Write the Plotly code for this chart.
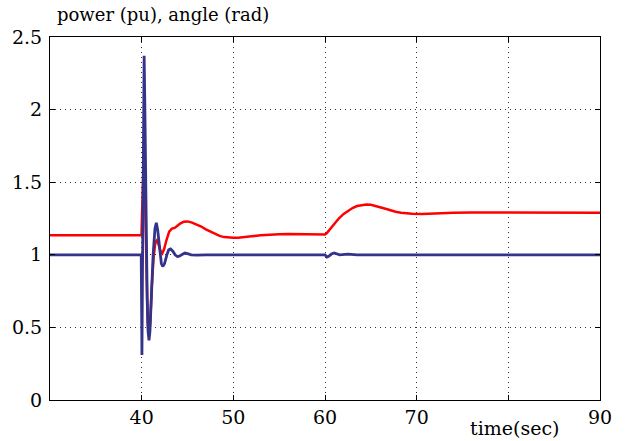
import plotly.graph_objects as go

# time (s) and series values
t_red = [30, 39.98, 40.05, 40.15, 40.25, 40.35, 40.5, 40.65, 40.8, 40.95, 41.1, 41.3, 41.5, 41.65,
         41.85, 42.05, 42.25, 42.45, 42.7, 43.0, 43.3, 43.6, 43.9, 44.2, 44.6, 45.0, 45.5, 46.0,
         46.5, 47.0, 47.5, 48.0, 48.5, 49.0, 49.5, 50, 50.5, 51, 52, 53, 54, 55, 56, 57.5, 59,
         60.0, 60.2, 60.5, 61.0, 61.5, 62.0, 62.5, 63.0, 63.5, 64.0, 64.5, 65.0, 65.5, 66, 66.6,
         67.2, 67.7, 68.3, 68.8, 69.5, 70.6, 71.5, 72.5, 74, 76, 80, 90]
power = [1.135, 1.135, 1.3, 1.6, 1.70, 1.45, 0.9, 0.55, 0.44, 0.55, 0.78, 0.98, 1.09, 1.1,
         1.07, 1.025, 1.01, 1.04, 1.1, 1.16, 1.18, 1.185, 1.2, 1.215, 1.228, 1.23, 1.222, 1.21,
         1.195, 1.175, 1.16, 1.143, 1.13, 1.122, 1.118, 1.117, 1.118, 1.12, 1.127, 1.134, 1.139, 1.142, 1.143, 1.142, 1.14,
         1.14, 1.15, 1.175, 1.215, 1.25, 1.28, 1.303, 1.322, 1.336, 1.344, 1.347, 1.345, 1.338, 1.328, 1.317,
         1.305, 1.297, 1.29, 1.285, 1.282, 1.281, 1.284, 1.287, 1.29, 1.291, 1.29, 1.29]

t_blue = [30, 39.95, 40.0, 40.03, 40.08, 40.15, 40.22, 40.27, 40.35, 40.45, 40.6, 40.7, 40.8, 40.9,
          41.05, 41.25, 41.45, 41.6, 41.75, 41.95, 42.15, 42.3, 42.5, 42.75, 42.95, 43.15, 43.4,
          43.65, 43.9, 44.1, 44.4, 44.7, 45.0, 45.4, 46, 47, 60.0, 60.1, 60.2, 60.4, 60.7, 61.0,
          61.3, 61.6, 62.5, 63.5, 90]
angle = [1.0, 1.0, 0.6, 0.31, 0.8, 1.7, 2.3, 2.37, 2.0, 1.3, 0.7, 0.47, 0.41, 0.47,
         0.7, 1.0, 1.18, 1.22, 1.17, 1.03, 0.94, 0.92, 0.94, 1.0, 1.035, 1.04, 1.025,
         1.0, 0.988, 0.99, 1.003, 1.012, 1.008, 1.0, 0.998, 1.0, 1.0, 0.99, 0.985, 0.99, 1.005, 1.013,
         1.005, 1.0, 1.004, 1.0, 1.0]

x_ticks = [40, 50, 60, 70, 80, 90]
x_tick_text = ["40", "50", "60", "70", "", "90"]
y_ticks = [0, 0.5, 1, 1.5, 2, 2.5]
y_tick_text = ["0", "0.5", "1", "1.5", "2", "2.5"]

FONT = "DejaVu Serif"

fig = go.Figure()
fig.add_trace(go.Scatter(x=t_red, y=power, mode="lines", line=dict(color="#ff0000", width=2.5)))
fig.add_trace(go.Scatter(x=t_blue, y=angle, mode="lines", line=dict(color="#33338a", width=2.8)))

axis_common = dict(showline=True, mirror="ticks", linecolor="black", linewidth=1,
                   ticks="inside", ticklen=5, tickcolor="black",
                   showgrid=True, gridcolor="#333333", gridwidth=1, griddash="1px,4px",
                   zeroline=False, tickfont=dict(family=FONT, size=19, color="black"))

fig.update_xaxes(range=[30, 90], tickvals=x_ticks, ticktext=x_tick_text, **axis_common)
fig.update_yaxes(range=[0, 2.5], tickvals=y_ticks, ticktext=y_tick_text,
                 ticklabelstandoff=3, **axis_common)

fig.add_annotation(text="power (pu), angle (rad)", xref="paper", yref="paper", x=0.205, y=1.062,
                   xanchor="center", yanchor="middle", showarrow=False,
                   font=dict(family=FONT, size=18, color="black"))
fig.add_annotation(text="time(sec)", xref="x", yref="paper", x=80.7, y=-0.077,
                   xanchor="center", yanchor="middle", showarrow=False,
                   font=dict(family=FONT, size=19, color="black"))

fig.update_layout(width=627, height=441, margin=dict(l=50, r=27, t=37, b=41),
                  paper_bgcolor="white", plot_bgcolor="white", showlegend=False,
                  font=dict(family=FONT))

fig.write_html("out.html", config={"displayModeBar": False},
               post_script="document.body.style.margin='0';")
